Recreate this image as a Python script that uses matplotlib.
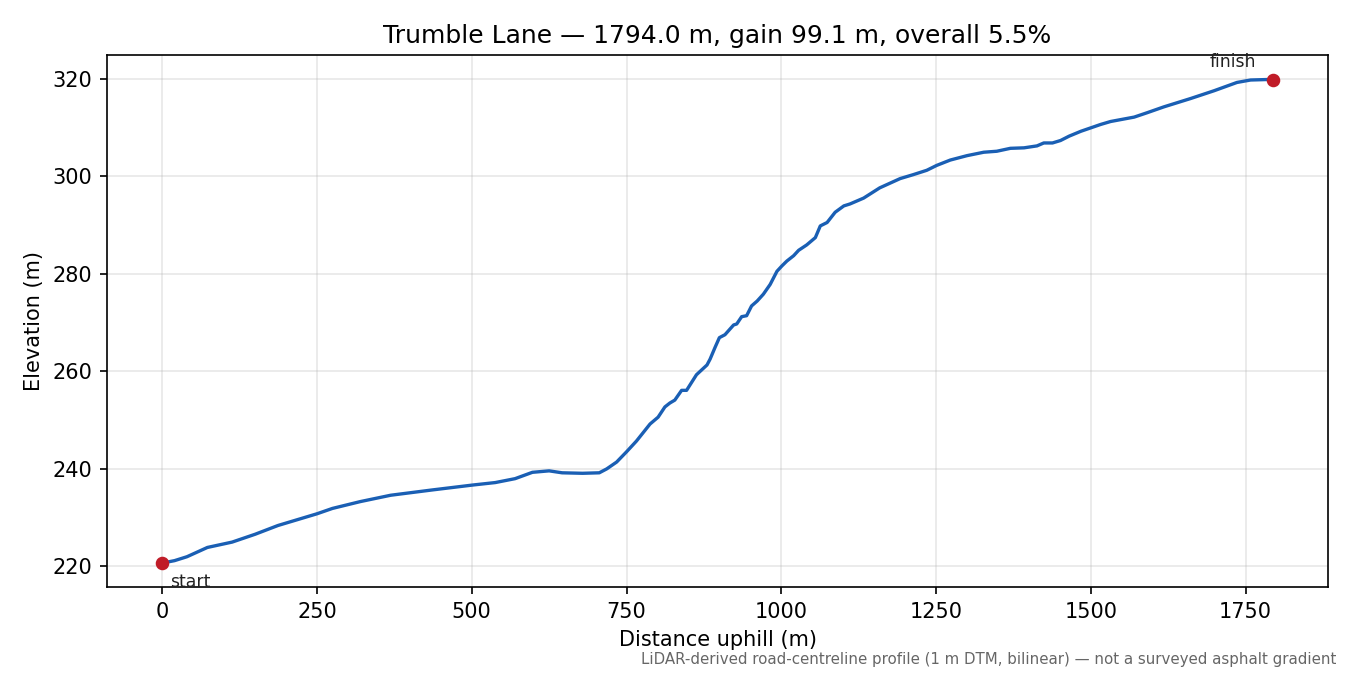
import matplotlib.pyplot as plt

# distance along the lane (m) and elevation (m)
distancia = [0, 20, 40, 73, 113, 150, 187, 250, 275, 320, 369, 437, 502, 538, 570,
             598, 625, 646, 679, 706, 718, 734, 750, 766, 788, 801, 812, 820, 828,
             839, 847, 863, 880, 885, 893, 900, 909, 923, 928, 936, 944, 952, 961,
             971, 982, 993, 1001, 1009, 1020, 1028, 1041, 1055, 1063, 1074, 1087,
             1101, 1111, 1133, 1159, 1192, 1213, 1235, 1251, 1273, 1300, 1327, 1348,
             1370, 1392, 1413, 1424, 1438, 1451, 1465, 1484, 1500, 1516, 1532, 1570,
             1591, 1618, 1661, 1699, 1736, 1758, 1785, 1794]
elevacao = [220.7, 221.2, 222.0, 223.9, 225.0, 226.6, 228.4, 230.8, 231.9, 233.3,
            234.6, 235.7, 236.7, 237.2, 238.0, 239.3, 239.6, 239.2, 239.1, 239.2,
            240.0, 241.4, 243.5, 245.7, 249.2, 250.6, 252.7, 253.5, 254.1, 256.1,
            256.1, 259.3, 261.3, 262.5, 264.9, 266.9, 267.5, 269.5, 269.7, 271.2,
            271.4, 273.4, 274.4, 275.8, 277.8, 280.5, 281.6, 282.6, 283.7, 284.8,
            285.9, 287.4, 289.8, 290.5, 292.6, 293.9, 294.3, 295.5, 297.6, 299.5,
            300.3, 301.2, 302.2, 303.3, 304.2, 304.9, 305.1, 305.7, 305.8, 306.2,
            306.8, 306.8, 307.3, 308.2, 309.2, 309.9, 310.6, 311.2, 312.1, 313.0,
            314.2, 315.9, 317.5, 319.2, 319.7, 319.8, 319.8]

nome = "Trumble Lane"
comprimento = distancia[-1]
ganho = elevacao[-1] - elevacao[0]
inclinacao = ganho / comprimento * 100

fig, ax = plt.subplots(figsize=(9, 4.5), dpi=150)

ax.plot(distancia, elevacao, color="#1a5fb4", lw=1.6)
ax.plot([distancia[0], distancia[-1]], [elevacao[0], elevacao[-1]], "o",
        color="#c01c28", ms=5.5)

ax.annotate("start", (distancia[0], elevacao[0]), xytext=(4, -5),
            textcoords="offset points", ha="left", va="top", fontsize=8.3,
            color="#222222")
ax.annotate("finish", (distancia[-1], elevacao[-1]), xytext=(-8, 4),
            textcoords="offset points", ha="right", va="bottom", fontsize=8.3,
            color="#222222")

ax.set_title(f"{nome} — {comprimento:.1f} m, gain {ganho:.1f} m, overall {inclinacao:.1f}%",
             fontsize=12)
ax.set_xlabel("Distance uphill (m)")
ax.set_ylabel("Elevation (m)")
ax.grid(True, alpha=0.3)

fig.text(0.99, 0.012,
         "LiDAR-derived road-centreline profile (1 m DTM, bilinear) — not a surveyed asphalt gradient",
         ha="right", va="bottom", fontsize=7.2, color="#666666")

plt.subplots_adjust(left=0.079, right=0.984, top=0.918, bottom=0.13)
plt.savefig("out.png")
plt.close()
